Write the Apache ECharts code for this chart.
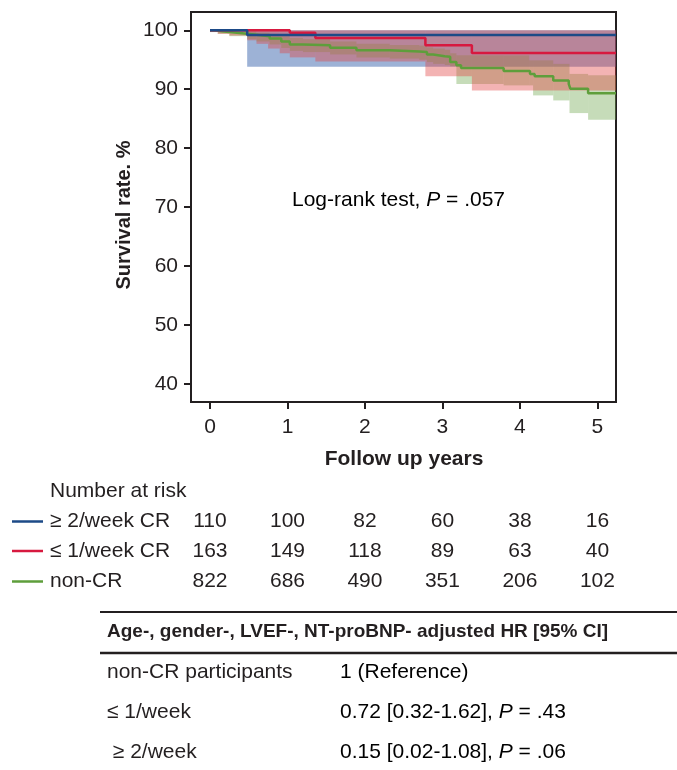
<!DOCTYPE html>
<html>
<head>
<meta charset="utf-8">
<script src="https://cdn.jsdelivr.net/npm/echarts@6/dist/echarts.min.js"></script>
<style>html,body{margin:0;padding:0;background:#fff}#c{width:677px;height:770px}</style>
</head>
<body>
<div id="c"></div>
<script>
// ---------- data ----------
const xTicks = [0, 1, 2, 3, 4, 5];
const yTicks = [40, 50, 60, 70, 80, 90, 100];
const xRange = [-0.245, 5.24];
const yRange = [36.94, 103.1];

// Kaplan-Meier steps [time, survival %]
const blueSurv = [[0, 100], [0.48, 99.2]];
const redSurv = [[0, 100], [1.03, 99.6], [1.36, 98.7], [2.78, 97.45], [3.38, 96.15]];
const greenSurv = [[0, 100], [0.06, 99.85], [0.15, 99.7], [0.25, 99.55], [0.38, 99.4], [0.48, 99.25],
  [0.6, 99.0], [0.77, 98.6], [0.92, 98.1], [1.03, 97.6], [1.2, 97.45], [1.55, 97.05], [1.89, 96.6],
  [2.32, 96.4], [2.70, 96.3], [2.80, 95.9], [2.88, 95.6], [3.03, 95.5], [3.10, 94.6], [3.18, 94.05],
  [3.24, 93.6], [3.79, 93.1], [4.13, 92.6], [4.19, 92.2], [4.43, 91.5], [4.63, 90.9], [4.65, 90.1],
  [4.88, 89.3]];

// confidence bands [time, lower, upper]
const blueBand = [[0, 99.9, 100], [0.48, 93.8, 100]];
const redBand = [[0, 99.7, 100], [0.1, 99.4, 100], [0.25, 99.1, 100], [0.48, 98.3, 100], [0.6, 97.7, 100],
  [0.75, 96.9, 100], [0.9, 96.1, 100], [1.03, 95.4, 100], [1.36, 94.7, 100], [2.78, 92.2, 100], [3.38, 89.8, 100]];
const greenBand = [[0, 99.7, 100], [0.1, 99.4, 100], [0.25, 99.0, 99.9], [0.48, 98.5, 99.8], [0.6, 98.1, 99.6],
  [0.77, 97.6, 99.3], [0.92, 97.0, 99.0], [1.03, 96.5, 98.7], [1.2, 96.3, 98.5], [1.55, 95.9, 98.1],
  [1.89, 95.4, 97.7], [2.32, 95.2, 97.5], [2.70, 95.0, 97.4], [2.80, 94.6, 97.1], [2.88, 94.3, 96.9],
  [3.03, 94.1, 96.7], [3.10, 93.9, 96.1], [3.18, 90.9, 95.75], [3.79, 90.65, 95.75], [4.12, 90.65, 94.9],
  [4.17, 88.95, 94.9], [4.43, 88.1, 94.3], [4.64, 85.95, 92.6], [4.88, 84.8, 92.35]];
const followEnd = 5.24;

// number at risk
const riskGroups = ['≥ 2/week CR', '≤ 1/week CR', 'non-CR'];
const riskTimes = [0, 1, 2, 3, 4, 5];
const risk2wk = [110, 100, 82, 60, 38, 16];
const risk1wk = [163, 149, 118, 89, 63, 40];
const riskNon = [822, 686, 490, 351, 206, 102];

// HR table
const hrHeader = 'Age-, gender-, LVEF-, NT-proBNP- adjusted HR [95% CI]';
const hrRows = [
  ['non-CR participants', '1 (Reference)', null],
  ['≤ 1/week', '0.72 [0.32-1.62], ', '.43'],
  [' ≥ 2/week', '0.15 [0.02-1.08], ', '.06']
];

// ---------- styles ----------
const FONT = '"Liberation Sans", Arial, Helvetica, sans-serif';
const INK = '#231f20';
const FS = 21;
const C_BLUE = '#1d4a87', C_RED = '#d7193f', C_GREEN = '#5e9e3b';
const F_BLUE = 'rgba(50,95,170,0.48)', F_RED = 'rgba(224,64,64,0.4)', F_GREEN = 'rgba(112,168,80,0.4)';

function stepData(arr) { return arr.concat([[followEnd, arr[arr.length - 1][1]]]); }
function bandData(arr) {
  return arr.map((r, i) => [r[0], i + 1 < arr.length ? arr[i + 1][0] : followEnd, r[1], r[2]]);
}
function bandSeries(arr, fill) {
  return {
    type: 'custom', xAxisIndex: 0, yAxisIndex: 0, silent: true,
    data: bandData(arr),
    encode: { x: [0, 1], y: [2, 3] },
    renderItem: function (params, api) {
      const p0 = api.coord([api.value(0), api.value(3)]);
      const p1 = api.coord([api.value(1), api.value(2)]);
      return { type: 'rect', shape: { x: p0[0], y: p0[1], width: p1[0] - p0[0], height: p1[1] - p0[1] },
        style: { fill: fill } };
    }
  };
}
function lineSeries(arr, color) {
  return { type: 'line', step: 'end', data: stepData(arr), symbol: 'none', silent: true,
    lineStyle: { color: color, width: 2.5 }, xAxisIndex: 0, yAxisIndex: 0 };
}
function riskSeries(vals, row) {
  return { type: 'scatter', xAxisIndex: 1, yAxisIndex: 1, symbolSize: 1, silent: true,
    itemStyle: { color: 'rgba(0,0,0,0)', opacity: 1 },
    data: vals.map((v, i) => [riskTimes[i], row, v]),
    label: { show: true, position: 'inside', formatter: p => String(p.value[2]), opacity: 1,
      fontFamily: FONT, fontSize: FS, color: INK } };
}

const chart = echarts.init(document.getElementById('c'), null, { renderer: 'canvas' });
const rowColors = [C_BLUE, C_RED, C_GREEN];
const rich = { n: { fontFamily: FONT, fontSize: FS, color: INK }, i: { fontFamily: FONT, fontSize: FS, fontStyle: 'italic', color: INK } };

const graphic = [
  { type: 'text', x: 124, y: 215, rotation: Math.PI / 2,
    style: { text: 'Survival rate. %', font: 'bold 20px ' + FONT, fill: INK, textAlign: 'center', textVerticalAlign: 'middle' } },
  { type: 'text', x: 404, y: 459,
    style: { text: 'Follow up years', font: 'bold 21px ' + FONT, fill: INK, textAlign: 'center', textVerticalAlign: 'middle' } },
  { type: 'text', x: 292, y: 200,
    style: { rich: rich, text: '{n|Log-rank test, }{i|P}{n| = .057}', textVerticalAlign: 'middle' } },
  { type: 'text', x: 50, y: 491,
    style: { text: 'Number at risk', font: FS + 'px ' + FONT, fill: INK, textVerticalAlign: 'middle' } },
  { type: 'line', shape: { x1: 100, y1: 612, x2: 677, y2: 612 }, style: { stroke: INK, lineWidth: 2 } },
  { type: 'line', shape: { x1: 100, y1: 653, x2: 677, y2: 653 }, style: { stroke: INK, lineWidth: 2.5 } },
  { type: 'text', x: 107, y: 632,
    style: { text: hrHeader, font: 'bold 19px ' + FONT, fill: INK, textVerticalAlign: 'middle' } }
];
[521.5, 551, 581.5].forEach((y, i) => {
  graphic.push({ type: 'line', shape: { x1: 12, y1: y, x2: 43, y2: y }, style: { stroke: rowColors[i], lineWidth: 2.5 } });
});
const hrY = [672, 712, 752];
hrRows.forEach((r, i) => {
  graphic.push({ type: 'text', x: 107, y: hrY[i], style: { text: r[0], font: FS + 'px ' + FONT, fill: INK, textVerticalAlign: 'middle' } });
  const txt = r[2] === null ? '{n|' + r[1] + '}' : '{n|' + r[1] + '}{i|P}{n| = ' + r[2] + '}';
  graphic.push({ type: 'text', x: 340, y: hrY[i], style: { rich: rich, text: txt, textVerticalAlign: 'middle' } });
});

chart.setOption({
  animation: false,
  backgroundColor: '#fff',
  grid: [
    { left: 191, top: 12, width: 425, height: 390, show: true, borderColor: INK, borderWidth: 2, backgroundColor: 'transparent' },
    { left: 191, top: 506, width: 425, height: 90, show: false }
  ],
  xAxis: [
    { type: 'value', gridIndex: 0, min: xRange[0], max: xRange[1],
      axisLine: { show: false, onZero: false }, splitLine: { show: false },
      axisTick: { show: true, customValues: xTicks, length: 7, lineStyle: { color: INK, width: 2 } },
      axisLabel: { show: true, customValues: xTicks, fontFamily: FONT, fontSize: FS, color: INK, margin: 15 } },
    { type: 'value', gridIndex: 1, min: xRange[0], max: xRange[1], show: false }
  ],
  yAxis: [
    { type: 'value', gridIndex: 0, min: yRange[0], max: yRange[1],
      axisLine: { show: false, onZero: false }, splitLine: { show: false },
      axisTick: { show: true, customValues: yTicks, length: 7, lineStyle: { color: INK, width: 2 } },
      axisLabel: { show: true, customValues: yTicks, fontFamily: FONT, fontSize: FS, color: INK, margin: 13 } },
    { type: 'category', gridIndex: 1, data: riskGroups, inverse: true,
      axisLine: { show: false, onZero: false }, axisTick: { show: false }, splitLine: { show: false },
      axisLabel: { show: true, align: 'left', margin: 141, fontFamily: FONT, fontSize: FS, color: INK } }
  ],
  series: [
    bandSeries(blueBand, F_BLUE),
    bandSeries(greenBand, F_GREEN),
    bandSeries(redBand, F_RED),
    lineSeries(greenSurv, C_GREEN),
    lineSeries(redSurv, C_RED),
    lineSeries(blueSurv, C_BLUE),
    riskSeries(risk2wk, 0),
    riskSeries(risk1wk, 1),
    riskSeries(riskNon, 2)
  ],
  graphic: graphic
});
</script>
</body>
</html>
